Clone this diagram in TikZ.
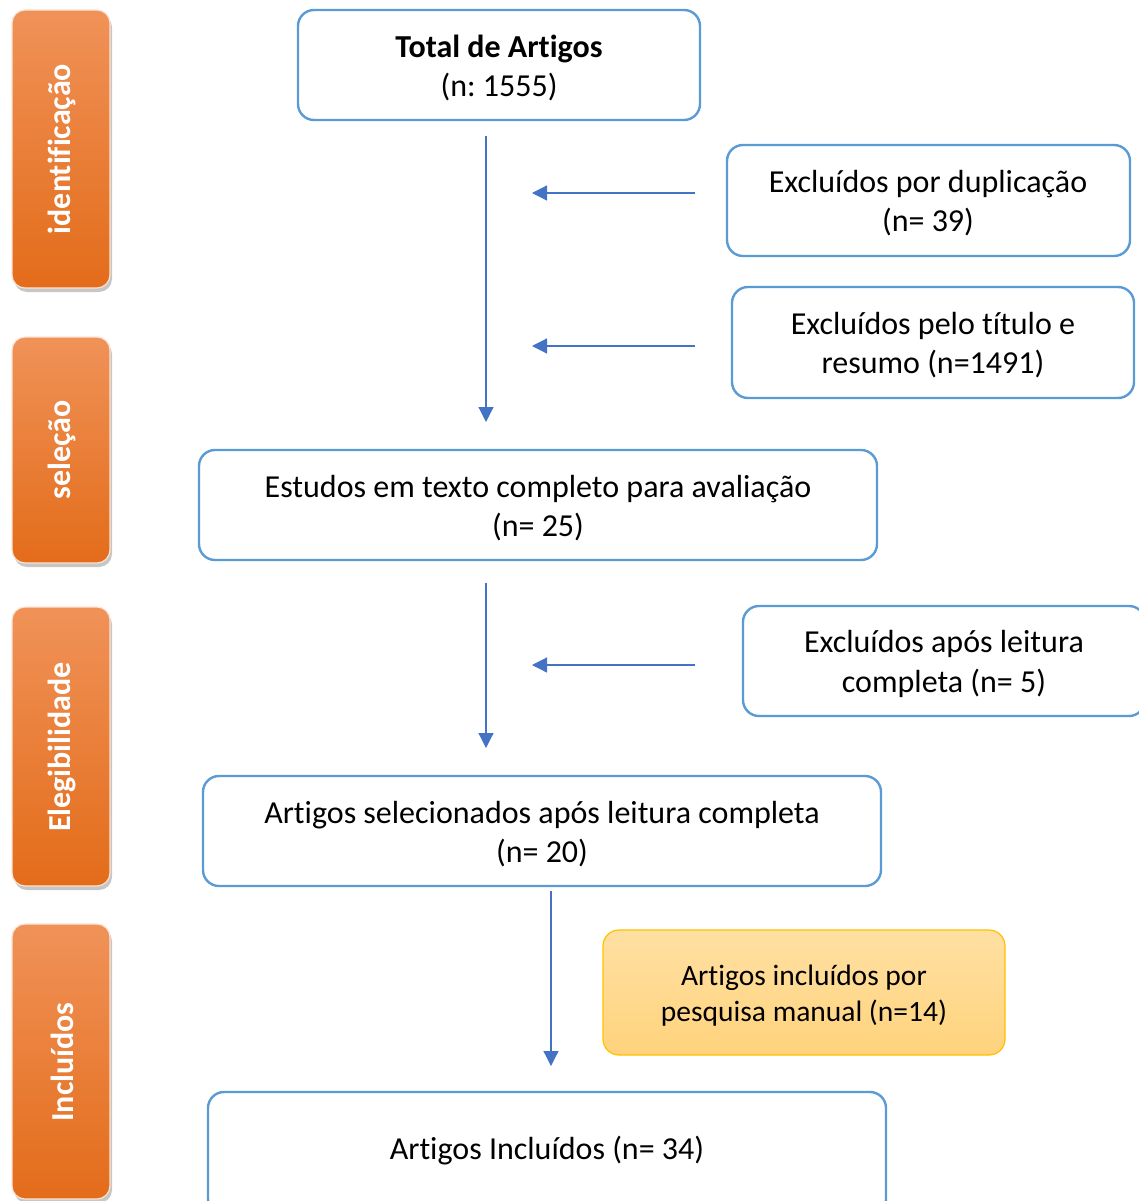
\documentclass[tikz,border=0pt]{standalone}
\usepackage{fontspec}
\setmainfont[Ligatures=NoCommon]{Carlito}
\frenchspacing
\usetikzlibrary{arrows.meta,shadows,calc}
\definecolor{bordblue}{HTML}{5B9BD5}
\definecolor{arrblue}{HTML}{4472C4}
\definecolor{orTop}{HTML}{F09258}
\definecolor{orBot}{HTML}{E36C1A}
\definecolor{orEdge}{HTML}{FCE4D4}
\definecolor{yelTop}{HTML}{FFE0A3}
\definecolor{yelBot}{HTML}{FFD37C}
\definecolor{yelEdge}{HTML}{FFC000}
\tikzset{
  x=1pt, y=-1pt,
  flowbox/.style={draw=bordblue, line width=2.4pt, rounded corners=16pt, fill=white},
  bartext/.style={rotate=90, text=white, font=\fontsize{32}{36}\selectfont\bfseries},
  phasebar/.style={draw=orEdge, line width=1.2pt, rounded corners=13pt, top color=orTop, bottom color=orBot,
     drop shadow={opacity=0.45, shadow xshift=2pt, shadow yshift=-4pt}},
  boxtext/.style={align=center, font=\fontsize{32}{39.5}\selectfont},
  arr/.style={draw=arrblue, line width=1.2pt, -{Triangle[length=15pt,width=15pt]}},
}
\begin{document}
\begin{tikzpicture}
\useasboundingbox (0,0) rectangle (1139,1201);
% phase bars
\draw[phasebar] (12,10) rectangle (110,288);
\node[bartext] (b1) at (62,149) {identificação};
\draw[phasebar] (12,337) rectangle (110,563);
\node[bartext] (b2) at (62,450) {seleção};
\draw[phasebar] (12,607) rectangle (110,886);
\node[bartext] (b3) at (62,747) {Elegibilidade};
\draw[phasebar] (12,924) rectangle (110,1199);
\node[bartext] (b4) at (62,1062) {Incluídos};

% boxes
\draw[flowbox] (298,10) rectangle (700,120);
\node[boxtext] (total) at (499,68) {\textbf{Total de Artigos}\\(n: 1555)};
\draw[flowbox] (727,145) rectangle (1130,256);
\node[boxtext] (exc1) at (928,203) {Excluídos por duplicação\\(n= 39)};
\draw[flowbox] (732,287) rectangle (1134,398);
\node[boxtext] (exc2) at (933,345) {Excluídos pelo título e\\resumo (n=1491)};
\draw[flowbox] (199,450) rectangle (877,560);
\node[boxtext] (est) at (538,508) {Estudos em texto completo para avaliação\\(n= 25)};
\draw[flowbox] (743,606) rectangle (1145,716);
\node[boxtext] (exc3) at (944,664) {Excluídos após leitura\\completa (n= 5)};
\draw[flowbox] (203,776) rectangle (881,886);
\node[boxtext] (sel) at (542,834) {Artigos selecionados após leitura completa\\(n= 20)};
\draw[draw=yelEdge, line width=1.2pt, rounded corners=16pt, top color=yelTop, bottom color=yelBot] (603,930) rectangle (1005,1055);
\node[boxtext, font=\fontsize{29.5}{36}\selectfont] (man) at (804,996) {Artigos incluídos por\\pesquisa manual (n=14)};
\draw[flowbox] (208,1092) rectangle (886,1215);
\node[boxtext] (inc) at (547,1151) {Artigos Incluídos (n= 34)};

% connector end points
\coordinate (v1s) at (486,136);
\coordinate (v1e) at (486,422);
\coordinate (h1s) at (695,193);
\coordinate (h1e) at (532,193);
\coordinate (h2s) at (695,346);
\coordinate (h2e) at (532,346);
\coordinate (v2s) at (486,583);
\coordinate (v2e) at (486,748);
\coordinate (h3s) at (695,665);
\coordinate (h3e) at (532,665);
\coordinate (v3s) at (551,891);
\coordinate (v3e) at (551,1066);

\draw[arr] (v1s) -- (v1e);
\draw[arr] (h1s) -- (h1e);
\draw[arr] (h2s) -- (h2e);
\draw[arr] (v2s) -- (v2e);
\draw[arr] (h3s) -- (h3e);
\draw[arr] (v3s) -- (v3e);
\end{tikzpicture}
\end{document}
